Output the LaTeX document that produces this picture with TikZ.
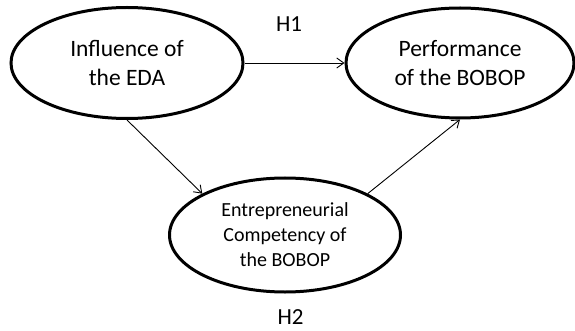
\documentclass[tikz,border=0pt]{standalone}
\usepackage{fontspec}
\setmainfont{Carlito}
\usetikzlibrary{shapes.geometric,arrows.meta}
\begin{document}
\begin{tikzpicture}[x=1pt,y=-1pt,
  construct/.style={draw=black,line width=3pt,ellipse,inner sep=0pt,align=center,font=\fontsize{23.5}{29.5}\selectfont},
  link/.style={draw=black,line width=0.9pt,-{Straight Barb[length=7pt,width=10pt]}},
  hyp/.style={font=\fontsize{23}{26}\selectfont,inner sep=0pt,anchor=base}]
\useasboundingbox (0,0) rectangle (575,331);
\node[construct,minimum width=232pt,minimum height=111pt] (eda) at (127,63) {Influence of\\the EDA};
\node[construct,minimum width=228pt,minimum height=110pt] (perf) at (460,63) {Performance\\of the BOBOP};
\node[construct,minimum width=231pt,minimum height=114pt,font=\fontsize{20}{25}\selectfont] (comp) at (285,235) {Entrepreneurial\\Competency of\\the BOBOP};
\node[hyp] (h1) at (289,32) {H1};
\node[hyp] (h2) at (290.5,324) {H2};
\draw[link] (eda.east) -- (perf.west);
\draw[link] (eda.south) -- (comp.north west);
\draw[link] (comp.north east) -- (perf.south);
\end{tikzpicture}
\end{document}
